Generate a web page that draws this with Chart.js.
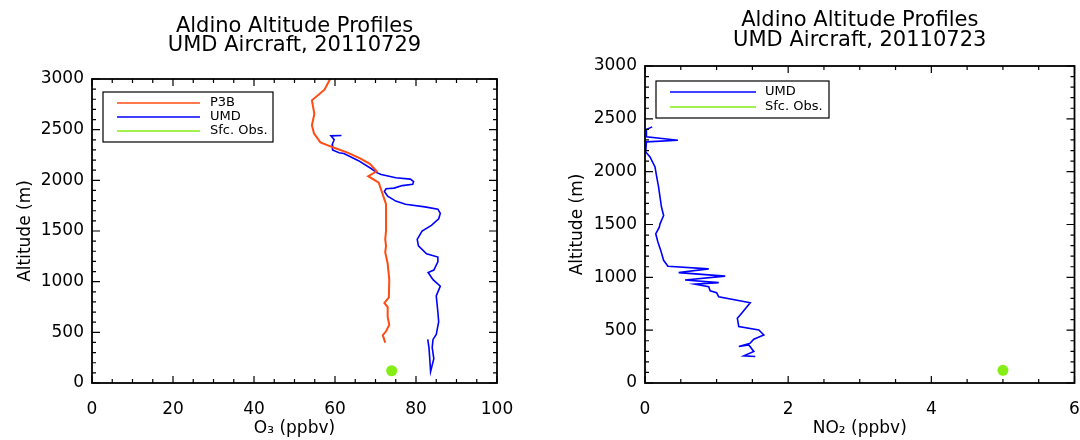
<!DOCTYPE html>
<html>
<head>
<meta charset="utf-8">
<script src="https://cdn.jsdelivr.net/npm/chart.js@4.4.0/dist/chart.umd.min.js"></script>
<style>
body { margin: 0; background: #fff; }
#wrap { position: relative; width: 1080px; height: 440px; }
canvas { position: absolute; top: 0; }
</style>
</head>
<body>
<div id="wrap">
  <canvas id="left" width="540" height="440" style="left:0"></canvas>
  <canvas id="right" width="540" height="440" style="left:540px"></canvas>
</div>
<script>
// left panel: O3 profiles, 20110729
const p3bO3  = [58.8, 57.4, 54.3, 54.9, 54.3, 54.8, 56.4, 59.8, 63.1, 66.2, 68.6, 70.3, 68.2, 70.8, 72.6, 72.6, 72.4, 72.6, 72.4, 73.0, 73.4, 73.3, 72.2, 73.0, 73.0, 73.4, 72.6, 71.8, 72.4];
const p3bAlt = [3000, 2895, 2790, 2656, 2544, 2465, 2375, 2321, 2273, 2216, 2162, 2089, 2041, 1977, 1764, 1498, 1418, 1354, 1290, 1179, 1020, 845, 790, 749, 653, 574, 510, 472, 398];

const umdO3    = [61.6, 59.0, 59.8, 59.3, 59.4, 61.0, 62.2, 65.8, 69.0, 70.3, 71.4, 75.0, 78.6, 79.4, 79.2, 76.6, 74.6, 72.6, 72.2, 73.0, 75.0, 77.4, 82.2, 85.4, 86.0, 85.6, 83.8, 81.5, 80.3, 80.6, 82.6, 85.4, 85.4, 84.4, 83.0, 84.2, 86.0, 85.0, 85.4, 85.6, 85.0, 84.2, 84.0, 84.4, 83.6, 83.4, 83.2, 82.9];
const umdO3Alt = [2442, 2439, 2401, 2353, 2299, 2273, 2264, 2194, 2114, 2076, 2057, 2025, 2012, 1987, 1961, 1948, 1923, 1917, 1891, 1843, 1795, 1764, 1738, 1716, 1674, 1620, 1556, 1500, 1418, 1354, 1275, 1243, 1195, 1115, 1090, 1020, 956, 860, 701, 605, 478, 430, 350, 239, 112, 240, 350, 430];

const sfcO3    = [74];
const sfcO3Alt = [121];

// right panel: NO2 profile, 20110723
const umdNO2    = [0.10, 0.02, 0.02, 0.46, 0.02, 0.01, 0.07, 0.14, 0.16, 0.19, 0.21, 0.23, 0.26, 0.21, 0.20, 0.15, 0.18, 0.22, 0.26, 0.32, 0.89, 0.47, 1.12, 0.56, 1.03, 0.70, 0.89, 0.91, 1.00, 1.03, 1.47, 1.33, 1.29, 1.31, 1.59, 1.66, 1.52, 1.47, 1.31, 1.45, 1.52, 1.38, 1.54];
const umdNO2Alt = [2424, 2400, 2330, 2297, 2282, 2187, 2139, 2044, 1965, 1854, 1759, 1665, 1585, 1506, 1475, 1412, 1334, 1255, 1161, 1105, 1080, 1045, 1011, 975, 950, 935, 912, 873, 854, 816, 760, 644, 612, 534, 502, 455, 414, 377, 345, 360, 298, 257, 251];

const sfcNO2    = [5.0];
const sfcNO2Alt = [120];

const titleLeft  = ["Aldino Altitude Profiles", "UMD Aircraft, 20110729"];
const titleRight = ["Aldino Altitude Profiles", "UMD Aircraft, 20110723"];

const RED = '#ff4c14', BLUE = '#0000ff', GREEN = '#84ee15';

Chart.defaults.font.family = "'DejaVu Sans', sans-serif";
Chart.defaults.color = '#000';

function pts(xs, ys) {
  return xs.map((v, i) => ({ x: v, y: ys[i] }));
}

function isMajor(v, step) {
  const r = v / step;
  return Math.abs(r - Math.round(r)) < 1e-6;
}

// box round the plot with inward ticks on all four sides, like IDL
const idlBox = {
  id: 'idlBox',
  afterDatasetsDraw(chart, args, o) {
    const { ctx, chartArea: a, scales: { x, y } } = chart;
    ctx.save();
    ctx.strokeStyle = '#000';
    ctx.lineWidth = 1.2;
    ctx.beginPath();
    for (let v = x.min; v <= x.max + 1e-9; v += o.xMinor) {
      const px = x.getPixelForValue(v);
      const len = isMajor(v, o.xMajor) ? 7 : 4;
      ctx.moveTo(px, a.bottom); ctx.lineTo(px, a.bottom - len);
      ctx.moveTo(px, a.top); ctx.lineTo(px, a.top + len);
    }
    for (let v = y.min; v <= y.max + 1e-9; v += o.yMinor) {
      const py = y.getPixelForValue(v);
      const len = isMajor(v, o.yMajor) ? 8 : 4;
      ctx.moveTo(a.left, py); ctx.lineTo(a.left + len, py);
      ctx.moveTo(a.right, py); ctx.lineTo(a.right - len, py);
    }
    ctx.stroke();
    ctx.lineWidth = 1.8;
    ctx.strokeRect(a.left, a.top, a.right - a.left, a.bottom - a.top);
    ctx.restore();
  }
};

const twoLineTitle = {
  id: 'twoLineTitle',
  afterDraw(chart, args, o) {
    const { ctx, chartArea: a } = chart;
    ctx.save();
    ctx.fillStyle = '#000';
    ctx.font = "21px 'DejaVu Sans'";
    ctx.textAlign = 'center';
    ctx.textBaseline = 'middle';
    o.lines.forEach((t, i) => ctx.fillText(t, (a.left + a.right) / 2, o.y[i]));
    ctx.restore();
  }
};

const boxLegend = {
  id: 'boxLegend',
  afterDraw(chart, args, o) {
    const { ctx } = chart;
    const ds = chart.data.datasets;
    ctx.save();
    ctx.fillStyle = '#fff';
    ctx.fillRect(o.x, o.y, o.w, o.h);
    ctx.strokeStyle = '#000';
    ctx.lineWidth = 1.2;
    ctx.strokeRect(o.x, o.y, o.w, o.h);
    ctx.font = "13px 'DejaVu Sans'";
    ctx.textBaseline = 'middle';
    ds.forEach((d, i) => {
      const ly = o.y + o.first + i * o.row;
      ctx.strokeStyle = d.legendColor;
      ctx.lineWidth = 1.3;
      ctx.beginPath();
      ctx.moveTo(o.lineX0, ly);
      ctx.lineTo(o.lineX1, ly);
      ctx.stroke();
      ctx.fillStyle = '#000';
      ctx.fillText(d.label, o.textX, ly);
    });
    ctx.restore();
  }
};

function axes(xMax, xStep, xTitle, yWidth, yTitlePad) {
  return {
    x: {
      type: 'linear', min: 0, max: xMax,
      ticks: { stepSize: xStep, autoSkip: false, maxRotation: 0, padding: 16, font: { size: 17 },
               callback: v => String(v) },
      grid: { display: false, drawTicks: false },
      border: { display: false },
      title: { display: true, text: xTitle, font: { size: 17 }, padding: { top: 0, bottom: 1 } },
      afterFit(s) { s.height = 57; s.paddingLeft = 0; s.paddingRight = 0; }
    },
    y: {
      type: 'linear', min: 0, max: 3000,
      ticks: { stepSize: 500, autoSkip: false, padding: 8, font: { size: 17 },
               callback: v => String(v) },
      grid: { display: false, drawTicks: false },
      border: { display: false },
      title: { display: true, text: 'Altitude (m)', font: { size: 17 }, padding: { top: yTitlePad, bottom: 0 } },
      afterFit(s) { s.width = yWidth; s.paddingTop = 0; s.paddingBottom = 0; }
    }
  };
}

new Chart(document.getElementById('left'), {
  type: 'scatter',
  data: {
    datasets: [
      { label: 'P3B', data: pts(p3bO3, p3bAlt), showLine: true, borderColor: RED, legendColor: RED, borderWidth: 2, pointRadius: 0, tension: 0 },
      { label: 'UMD', data: pts(umdO3, umdO3Alt), showLine: true, borderColor: BLUE, legendColor: BLUE, borderWidth: 1.6, pointRadius: 0, tension: 0 },
      { label: 'Sfc. Obs.', data: pts(sfcO3, sfcO3Alt), showLine: false, legendColor: GREEN, pointRadius: 5.5, pointBackgroundColor: GREEN, pointBorderWidth: 0 }
    ]
  },
  options: {
    responsive: false, animation: false, events: [],
    layout: { padding: { left: 0, top: 79, right: 43, bottom: 0 } },
    plugins: {
      legend: { display: false }, tooltip: { enabled: false },
      idlBox: { xMinor: 5, xMajor: 20, yMinor: 100, yMajor: 500 },
      twoLineTitle: { lines: titleLeft, y: [27, 46] },
      boxLegend: { x: 103, y: 92, w: 170, h: 50, first: 11, row: 14, lineX0: 117, lineX1: 200, textX: 210 }
    },
    scales: axes(100, 20, 'O₃ (ppbv)', 92, 15)
  },
  plugins: [idlBox, twoLineTitle, boxLegend]
});

new Chart(document.getElementById('right'), {
  type: 'scatter',
  data: {
    datasets: [
      { label: 'UMD', data: pts(umdNO2, umdNO2Alt), showLine: true, borderColor: BLUE, legendColor: BLUE, borderWidth: 1.6, pointRadius: 0, tension: 0 },
      { label: 'Sfc. Obs.', data: pts(sfcNO2, sfcNO2Alt), showLine: false, legendColor: GREEN, pointRadius: 5.5, pointBackgroundColor: GREEN, pointBorderWidth: 0 }
    ]
  },
  options: {
    responsive: false, animation: false, events: [],
    layout: { padding: { left: 0, top: 66, right: 5, bottom: 0 } },
    plugins: {
      legend: { display: false }, tooltip: { enabled: false },
      idlBox: { xMinor: 0.5, xMajor: 2, yMinor: 100, yMajor: 500 },
      twoLineTitle: { lines: titleRight, y: [21, 41] },
      boxLegend: { x: 116, y: 81, w: 173, h: 37, first: 11, row: 15, lineX0: 130, lineX1: 216, textX: 225 }
    },
    scales: axes(6, 2, 'NO₂ (ppbv)', 105, 27)
  },
  plugins: [idlBox, twoLineTitle, boxLegend]
});
</script>
</body>
</html>
